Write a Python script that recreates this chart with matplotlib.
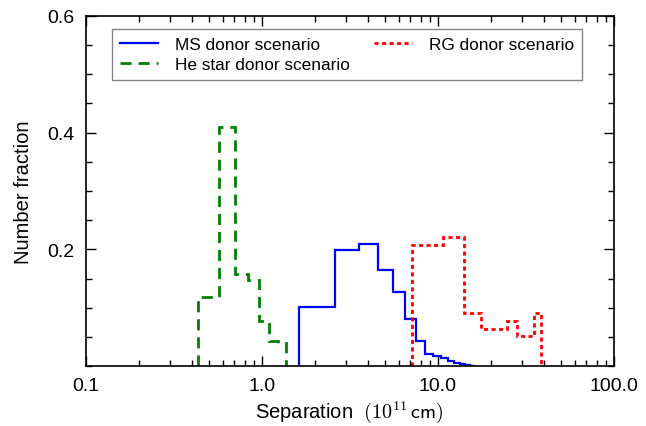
import numpy as np
import matplotlib
matplotlib.use('Agg')
import matplotlib.pyplot as plt
from matplotlib.ticker import MultipleLocator

plt.rcParams['font.family'] = ['Liberation Sans', 'DejaVu Sans']
plt.rcParams['mathtext.fontset'] = 'cm'

# histogram edges (1e11 cm) and number fractions
ms_edges = [1.636, 2.611, 3.586, 4.561, 5.536, 6.511, 7.486, 8.461, 9.436,
            10.411, 11.386, 12.361, 13.336, 14.311, 15.286, 16.261]
ms_frac = [0.101, 0.199, 0.209, 0.164, 0.127, 0.081, 0.043, 0.020, 0.017,
           0.013, 0.009, 0.006, 0.003, 0.0015, 0.0005]

he_edges = [0.436, 0.569, 0.702, 0.835, 0.968, 1.101, 1.234, 1.367]
he_frac = [0.118, 0.410, 0.157, 0.148, 0.077, 0.043, 0.040]

rg_edges = [7.17, 10.67, 14.17, 17.67, 21.17, 24.67, 28.17, 31.67, 35.17, 38.67]
rg_frac = [0.207, 0.221, 0.091, 0.064, 0.064, 0.077, 0.051, 0.051, 0.091]

xticks = [0.1, 1.0, 10.0, 100.0]
xticklabels = ['0.1', '1.0', '10.0', '100.0']
yticks = [0.2, 0.4, 0.6]

fig = plt.figure(figsize=(6.46, 4.27), dpi=100)
ax = fig.add_axes([0.1327, 0.1405, 0.8173, 0.8197])

ax.stairs(ms_frac, ms_edges, baseline=0, color='#0000ff', lw=1.6,
          label='MS donor scenario')
ax.stairs(he_frac, he_edges, baseline=0, color='#008000', lw=2.0,
          linestyle=(0, (4, 2.5)), label='He star donor scenario')
ax.stairs(rg_frac, rg_edges, baseline=0, color='#ff0000', lw=2.0,
          linestyle=(0, (1.5, 1.2)), label='RG donor scenario')

ax.set_xscale('log')
ax.set_xlim(0.1, 100)
ax.set_ylim(0, 0.6)
ax.set_xticks(xticks)
ax.set_xticklabels(xticklabels)
ax.set_yticks(yticks)
ax.set_yticklabels(['0.2', '0.4', '0.6'])
ax.yaxis.set_minor_locator(MultipleLocator(0.05))

ax.tick_params(which='both', direction='in', top=True, right=True,
               labelsize=14, width=1.0)
ax.tick_params(which='major', length=7, pad=8)
ax.tick_params(which='minor', length=4)
for s in ax.spines.values():
    s.set_linewidth(1.2)

ax.set_xlabel(r'Separation  $(10^{11}\,\mathsf{cm})$', fontsize=14.5, labelpad=3)
ax.set_ylabel('Number fraction', fontsize=14.5, labelpad=10)

leg = ax.legend(loc='upper left', bbox_to_anchor=(0.05, 0.82, 0.89, 0.143),
                mode='expand', ncol=2, fontsize=12.4, frameon=True,
                fancybox=False, handlelength=2.2, handletextpad=1.0,
                borderaxespad=0, labelspacing=0.3, borderpad=0.45,
                columnspacing=1.0)
leg.get_frame().set_edgecolor('#666666')
leg.get_frame().set_linewidth(1.0)

fig.savefig('out.png', dpi=100)
